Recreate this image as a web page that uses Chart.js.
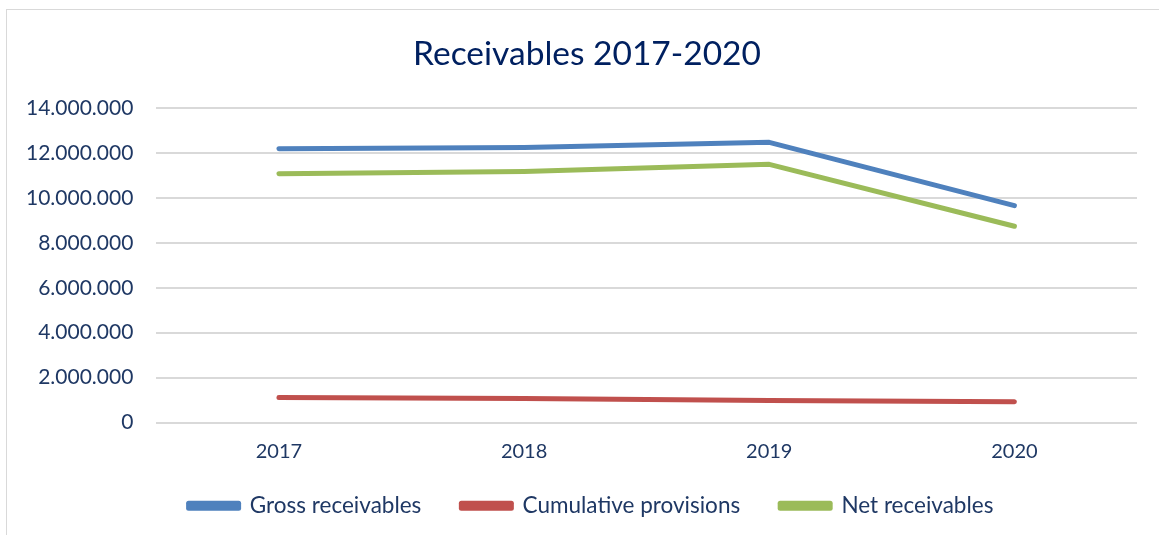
<!DOCTYPE html>
<html>
<head>
<meta charset="utf-8">
<script src="https://cdn.jsdelivr.net/npm/chart.js@4"></script>
<style>
html,body{margin:0;padding:0;background:#fff;}
#wrap{position:absolute;left:6px;top:9px;width:1170px;height:540px;border:1px solid #d9d9d9;box-sizing:border-box;}
#c{position:absolute;left:0;top:0;}
</style>
</head>
<body>
<div id="wrap"></div>
<canvas id="c" width="1159" height="535"></canvas>
<script>
const categories = ['2017', '2018', '2019', '2020'];
const grossReceivables = [12190000, 12250000, 12480000, 9660000];
const cumulativeProvisions = [1110000, 1070000, 980000, 920000];
const netReceivables = [11080000, 11180000, 11500000, 8740000];
const yTicks = [0, 2000000, 4000000, 6000000, 8000000, 10000000, 12000000, 14000000];

const FONT = 'Lato, "Open Sans", sans-serif';
const TXT = '#1f3864';

function fmt(v){ return String(v).replace(/\B(?=(\d{3})+(?!\d))/g, '.'); }

const boxShift = {
  id: 'boxShift',
  afterLayout(chart){
    const l = chart.legend;
    if (l) { l.top -= 18; l.bottom -= 18; l.left += 21; l.right += 21; }
    const t = chart.titleBlock;
    if (t) { t.left += 17; t.right += 17; }
  }
};

new Chart(document.getElementById('c'), {
  type: 'line',
  data: {
    labels: categories,
    datasets: [
      {label:'Gross receivables', data: grossReceivables, borderColor:'#4f81bd', backgroundColor:'#4f81bd'},
      {label:'Cumulative provisions', data: cumulativeProvisions, borderColor:'#c0504d', backgroundColor:'#c0504d'},
      {label:'Net receivables', data: netReceivables, borderColor:'#9bbb59', backgroundColor:'#9bbb59'}
    ]
  },
  plugins: [boxShift],
  options: {
    responsive:false,
    animation:false,
    devicePixelRatio:1,
    elements:{line:{borderWidth:5, tension:0, borderCapStyle:'round', borderJoinStyle:'round'}, point:{radius:0, hoverRadius:0}},
    layout:{padding:{left:3, right:22, top:22, bottom:-10}},
    plugins:{
      title:{display:true, text:'Receivables 2017-2020', color:'#002060', font:{family:FONT, size:33.5, weight:'normal'}, padding:{top:12, bottom:34}},
      legend:{position:'bottom', labels:{color:TXT, font:{family:FONT, size:22.5}, boxWidth:50, boxHeight:5, padding:40}},
      tooltip:{enabled:false}
    },
    scales:{
      x:{offset:true, grid:{display:false}, border:{display:false}, ticks:{color:TXT, font:{family:FONT, size:20}, padding:9}},
      y:{min:0, max:14000000, afterBuildTicks:(ax)=>{ax.ticks = yTicks.map(v=>({value:v}));},
         grid:{color:'#d9d9d9', lineWidth:2, drawTicks:false}, border:{display:false},
         ticks:{color:TXT, font:{family:FONT, size:21}, padding:23, callback:(v)=>fmt(v)}}
    }
  }
});
</script>
</body>
</html>
